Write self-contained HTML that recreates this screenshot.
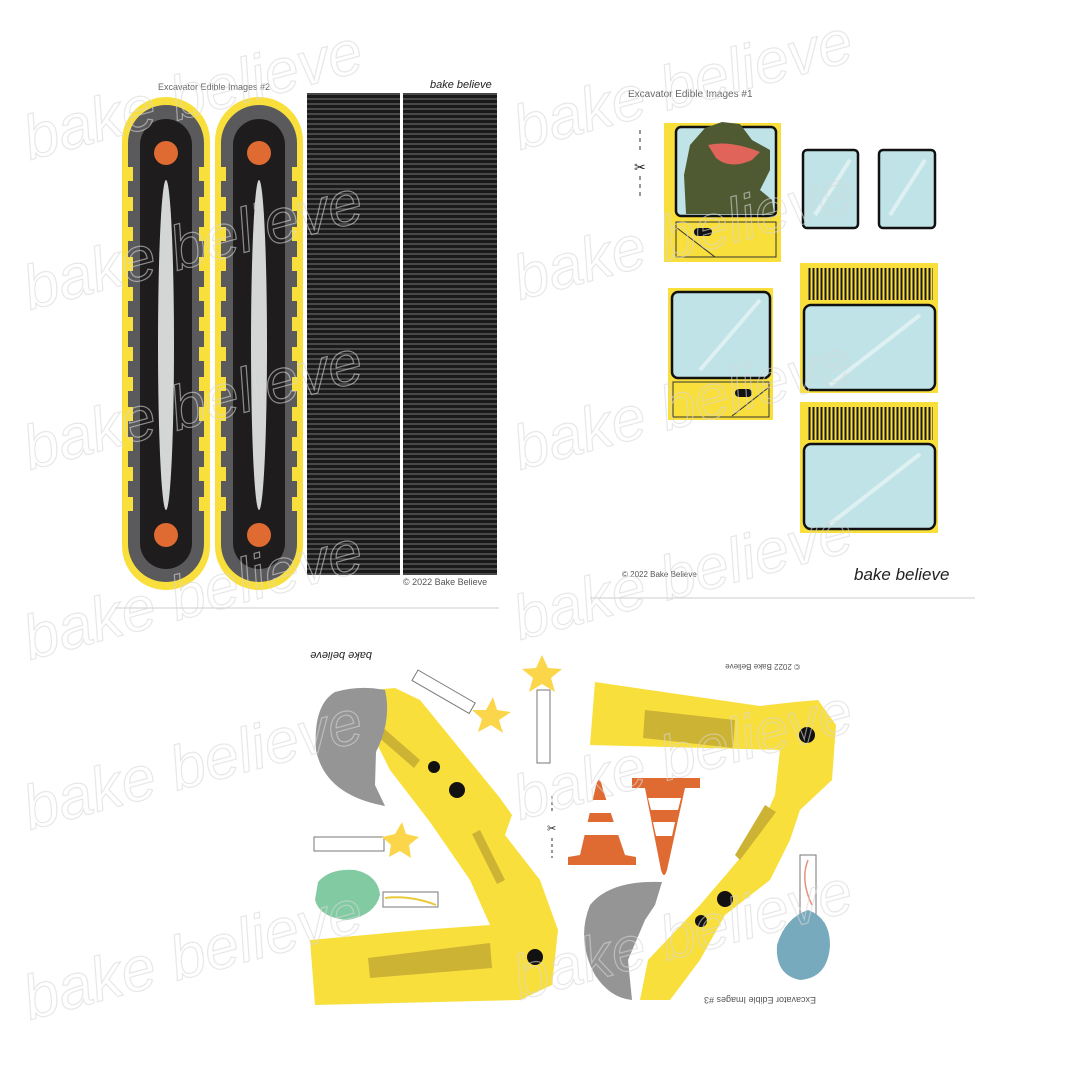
<!DOCTYPE html>
<html><head><meta charset="utf-8"><style>
html,body{margin:0;padding:0;background:#fff;}
svg{display:block}
text{font-family:"Liberation Sans",sans-serif}
</style></head><body>
<svg width="1080" height="1080" viewBox="0 0 1080 1080" xmlns="http://www.w3.org/2000/svg">
<defs>
<pattern id="hl" width="10" height="5" patternUnits="userSpaceOnUse"><rect width="10" height="5" fill="#1a1a1a"/><rect y="3.5" width="10" height="1" fill="#777"/></pattern>
<pattern id="vl" width="4" height="10" patternUnits="userSpaceOnUse"><rect width="4" height="10" fill="#f9df3c"/><rect x="0.5" width="2" height="10" fill="#1a1a1a"/></pattern>
<g id="track">
<rect x="0" y="0" width="88" height="493" rx="44" fill="#f9df3c"/>
<rect x="6" y="8" width="76" height="477" rx="38" fill="#5a5a5c"/>
<g fill="#f9df3c">
<rect x="0" y="70" width="11" height="14"/><rect x="0" y="100" width="11" height="14"/><rect x="0" y="130" width="11" height="14"/><rect x="0" y="160" width="11" height="14"/><rect x="0" y="190" width="11" height="14"/><rect x="0" y="220" width="11" height="14"/><rect x="0" y="250" width="11" height="14"/><rect x="0" y="280" width="11" height="14"/><rect x="0" y="310" width="11" height="14"/><rect x="0" y="340" width="11" height="14"/><rect x="0" y="370" width="11" height="14"/><rect x="0" y="400" width="11" height="14"/>
<rect x="77" y="70" width="11" height="14"/><rect x="77" y="100" width="11" height="14"/><rect x="77" y="130" width="11" height="14"/><rect x="77" y="160" width="11" height="14"/><rect x="77" y="190" width="11" height="14"/><rect x="77" y="220" width="11" height="14"/><rect x="77" y="250" width="11" height="14"/><rect x="77" y="280" width="11" height="14"/><rect x="77" y="310" width="11" height="14"/><rect x="77" y="340" width="11" height="14"/><rect x="77" y="370" width="11" height="14"/><rect x="77" y="400" width="11" height="14"/>
</g>
<rect x="18" y="22" width="52" height="450" rx="26" fill="#1e1c1c"/>
<ellipse cx="44" cy="248" rx="8" ry="165" fill="#d4d6d6"/>
<circle cx="44" cy="56" r="12" fill="#e06b32"/>
<circle cx="44" cy="438" r="12" fill="#e06b32"/>
</g>
</defs>
<rect width="1080" height="1080" fill="#fff"/>

<!-- Sheet 2 -->
<text x="158" y="90" font-size="9" fill="#666">Excavator Edible Images #2</text>
<text x="430" y="88" font-size="11" fill="#222" font-family="Liberation Serif" font-style="italic">bake believe</text>
<use href="#track" x="122" y="97"/>
<use href="#track" x="215" y="97"/>
<rect x="307" y="93" width="93" height="482" fill="url(#hl)"/>
<rect x="403" y="93" width="94" height="482" fill="url(#hl)"/>
<text x="403" y="585" font-size="9" fill="#555">© 2022 Bake Believe</text>
<line x1="115" y1="608" x2="499" y2="608" stroke="#ccc" stroke-width="1"/>

<!-- Sheet 1 -->
<text x="628" y="97" font-size="10" fill="#666">Excavator Edible Images #1</text>
<g stroke="#333" stroke-width="1"><line x1="640" y1="130" x2="640" y2="150" stroke-dasharray="4 4"/><line x1="640" y1="176" x2="640" y2="200" stroke-dasharray="4 4"/></g>
<text x="634" y="172" font-size="14" fill="#222">✂</text>
<rect x="664" y="123" width="117" height="139" fill="#f9df3c"/>
<rect x="676" y="127" width="100" height="89" rx="5" fill="#bfe3e6" stroke="#111" stroke-width="2.5"/>
<path d="M686 214 L684 175 L690 145 L705 128 L722 122 L740 124 L752 140 L770 150 L770 170 L760 190 L772 200 L774 214 Z" fill="#4f5a33"/>
<path d="M708 145 Q730 140 760 152 L752 160 Q730 170 716 158 Z" fill="#e0645a"/>
<rect x="676" y="222" width="100" height="35" fill="none" stroke="#333" stroke-width="1"/>
<line x1="677" y1="228" x2="715" y2="257" stroke="#333" stroke-width="1"/>
<rect x="694" y="228" width="18" height="8" rx="4" fill="#111"/>
<rect x="803" y="150" width="55" height="78" rx="4" fill="#bfe3e6" stroke="#111" stroke-width="2.5"/>
<rect x="879" y="150" width="56" height="78" rx="4" fill="#bfe3e6" stroke="#111" stroke-width="2.5"/>
<rect x="668" y="288" width="105" height="132" fill="#f9df3c"/>
<rect x="672" y="292" width="98" height="86" rx="6" fill="#bfe3e6" stroke="#111" stroke-width="2.5"/>
<rect x="673" y="382" width="96" height="35" fill="none" stroke="#333" stroke-width="1"/>
<line x1="732" y1="416" x2="768" y2="388" stroke="#333" stroke-width="1"/>
<rect x="735" y="389" width="17" height="8" rx="4" fill="#111"/>
<rect x="800" y="263" width="138" height="130" fill="#f9df3c"/>
<rect x="808" y="268" width="125" height="32" fill="url(#vl)"/>
<rect x="804" y="305" width="131" height="85" rx="7" fill="#bfe3e6" stroke="#111" stroke-width="2.5"/>
<rect x="800" y="402" width="138" height="131" fill="#f9df3c"/>
<rect x="808" y="407" width="125" height="33" fill="url(#vl)"/>
<rect x="804" y="444" width="131" height="85" rx="7" fill="#bfe3e6" stroke="#111" stroke-width="2.5"/>
<g stroke="#e6f4f5" stroke-width="4" opacity="0.8"><line x1="700" y1="370" x2="760" y2="300"/><line x1="830" y1="385" x2="920" y2="315"/><line x1="830" y1="524" x2="920" y2="454"/><line x1="815" y1="215" x2="850" y2="160"/><line x1="890" y1="215" x2="925" y2="160"/></g>
<text x="622" y="577" font-size="8" fill="#555">© 2022 Bake Believe</text>
<text x="854" y="580" font-size="17" fill="#222" font-family="Liberation Serif" font-style="italic">bake believe</text>
<line x1="590" y1="598" x2="975" y2="598" stroke="#ccc" stroke-width="1"/>

<!-- Sheet 3 -->
<text x="308" y="660" font-size="11" fill="#222" font-family="Liberation Serif" font-style="italic" transform="rotate(180 340 656)">bake believe</text>
<text x="730" y="672" font-size="8" fill="#555" transform="rotate(180 765 668)">© 2022 Bake Believe</text>
<text x="688" y="1005" font-size="9" fill="#555" transform="rotate(180 752 1001)">Excavator Edible Images #3</text>
<path d="M372 690 L395 688 L420 700 L500 798 L512 815 L505 835 L540 880 L558 930 L552 985 L520 1000 L315 1005 L310 940 L420 930 L490 925 L470 880 L430 822 L390 770 L375 740 Z" fill="#f9df3c"/>
<path d="M380 725 L420 760 L414 768 L376 735 Z" fill="#cdb334"/>
<path d="M480 830 L505 880 L497 884 L472 834 Z" fill="#cdb334"/>
<path d="M368 958 L490 943 L492 968 L370 978 Z" fill="#cdb334"/>
<circle cx="434" cy="767" r="6" fill="#111"/><circle cx="457" cy="790" r="8" fill="#111"/><circle cx="535" cy="957" r="8" fill="#111"/>
<path d="M385 690 Q360 685 335 692 Q313 705 316 750 Q325 795 385 806 L375 785 L376 752 Q392 720 385 690 Z" fill="#959595"/>
<path d="M595 682 L760 706 L795 702 L818 700 L836 725 L832 780 L800 810 L790 840 L770 880 L725 915 L700 960 L670 1000 L640 1000 L648 960 L700 905 L730 870 L755 840 L775 795 L780 750 L590 745 Z" fill="#f9df3c"/>
<path d="M645 710 L735 720 L733 748 L643 738 Z" fill="#cdb334"/>
<path d="M765 805 L776 812 L740 860 L735 855 Z" fill="#cdb334"/>
<circle cx="807" cy="735" r="8" fill="#111"/><circle cx="725" cy="899" r="8" fill="#111"/><circle cx="701" cy="921" r="6" fill="#111"/>
<path d="M662 882 Q610 880 590 905 Q576 940 595 975 Q610 998 632 1000 L628 960 L645 920 L655 905 Z" fill="#959595"/>
<path d="M595 790 Q599 770 603 790 L625 855 L636 857 L636 865 L568 865 L568 857 L580 855 Z" fill="#e06b32"/>
<path d="M591 800 L608 800 L612 813 L587 813 Z M584 822 L615 822 L619 835 L580 835 Z" fill="#fff"/>
<path d="M632 778 L700 778 L700 788 L685 788 L667 870 Q664 880 661 870 L645 788 L632 788 Z" fill="#e06b32"/>
<path d="M648 798 L681 798 L678 810 L651 810 Z M653 822 L675 822 L672 836 L656 836 Z" fill="#fff"/>
<g stroke="#333" stroke-width="1"><line x1="552" y1="796" x2="552" y2="812" stroke-dasharray="3 3"/><line x1="552" y1="838" x2="552" y2="858" stroke-dasharray="3 3"/></g>
<text x="547" y="832" font-size="11" fill="#222">✂</text>
<rect x="418" y="670" width="66" height="12" fill="#fff" stroke="#777" stroke-width="1" transform="rotate(30 418 670)"/>
<rect x="537" y="690" width="13" height="73" fill="#fff" stroke="#777" stroke-width="1"/>
<rect x="314" y="837" width="70" height="14" fill="#fff" stroke="#777" stroke-width="1"/>
<rect x="383" y="892" width="55" height="15" fill="#fff" stroke="#777" stroke-width="1"/>
<rect x="800" y="855" width="16" height="60" fill="#fff" stroke="#777" stroke-width="1"/>
<g fill="#fbd54a">
<polygon points="542,655 548,668 562,669 551,678 555,692 542,684 529,692 533,678 522,669 536,668"/>
<polygon points="493,697 497,710 511,712 499,720 503,733 491,725 478,732 482,719 472,710 486,710"/>
<polygon points="402,822 406,834 419,837 409,845 411,858 400,851 389,857 391,845 382,837 395,834"/>
</g>
<path d="M318 882 Q330 868 355 870 Q378 875 380 895 Q375 915 348 920 Q320 918 315 900 Z" fill="#82cba2"/>
<path d="M385 898 Q410 895 436 905" stroke="#e8c93a" stroke-width="2" fill="none"/>
<path d="M808 860 Q800 880 812 905" stroke="#e8907a" stroke-width="1.5" fill="none"/>
<path d="M808 910 Q830 918 830 945 Q828 978 800 980 Q775 975 777 945 Q785 918 808 910 Z" fill="#78aabd"/>
<!-- watermark -->
<g font-family="Liberation Serif" font-style="italic" font-size="62" fill="none" stroke="#d8d8d8" stroke-width="1.2" opacity="0.6">
<text x="30" y="160" transform="rotate(-15 30 160)">bake believe</text>
<text x="520" y="150" transform="rotate(-15 520 150)">bake believe</text>
<text x="30" y="310" transform="rotate(-15 30 310)">bake believe</text>
<text x="520" y="300" transform="rotate(-15 520 300)">bake believe</text>
<text x="30" y="470" transform="rotate(-15 30 470)">bake believe</text>
<text x="520" y="470" transform="rotate(-15 520 470)">bake believe</text>
<text x="30" y="660" transform="rotate(-15 30 660)">bake believe</text>
<text x="520" y="640" transform="rotate(-15 520 640)">bake believe</text>
<text x="30" y="830" transform="rotate(-15 30 830)">bake believe</text>
<text x="520" y="820" transform="rotate(-15 520 820)">bake believe</text>
<text x="30" y="1020" transform="rotate(-15 30 1020)">bake believe</text>
<text x="520" y="1000" transform="rotate(-15 520 1000)">bake believe</text>
</g>
</svg>
</body></html>
